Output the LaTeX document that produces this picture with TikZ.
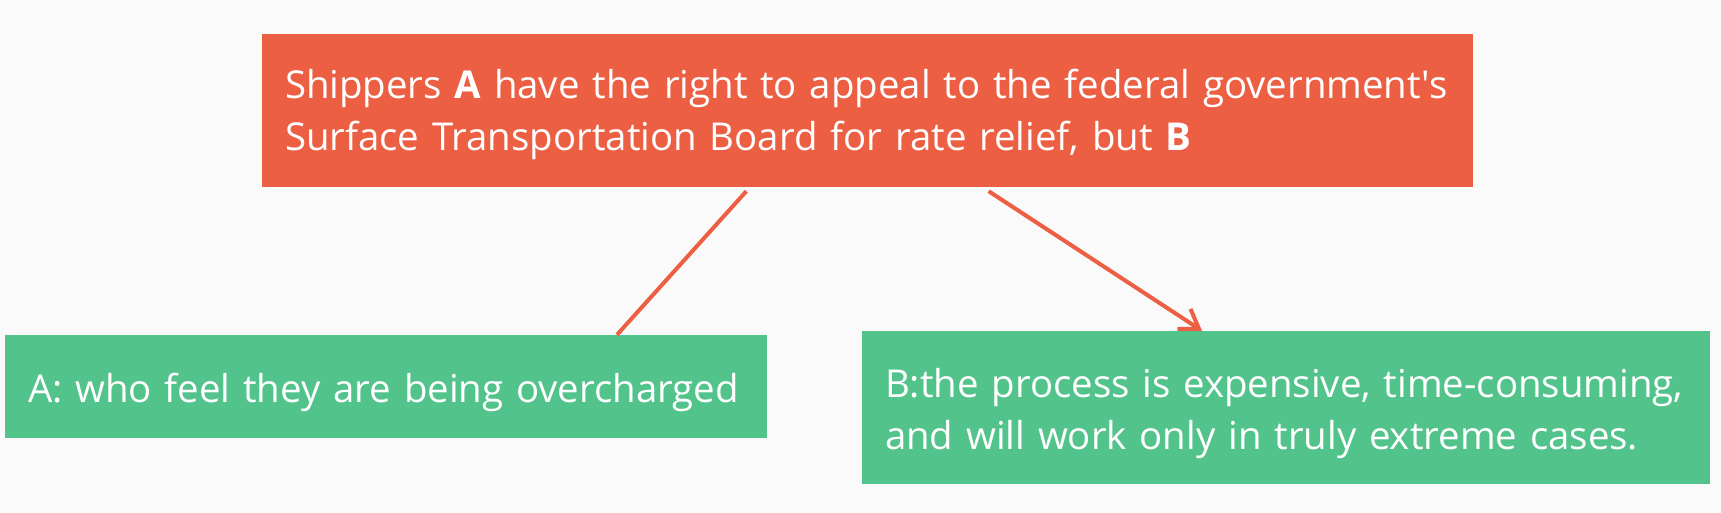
\documentclass[tikz,border=0pt]{standalone}
\usepackage{fontspec}
\setmainfont{Open Sans}
\usetikzlibrary{arrows.meta,calc}
\definecolor{boxred}{HTML}{EC5F43}
\definecolor{boxgreen}{HTML}{52C38B}
\definecolor{paper}{HTML}{FAFAFA}
\tikzset{
  txtbox/.style={text=white,inner xsep=23pt,inner ysep=0pt,align=left,
    font=\fontsize{38.4}{52}\selectfont},
  redbox/.style={txtbox,fill=boxred},
  greenbox/.style={txtbox,fill=boxgreen},
  link/.style={boxred,line width=4pt}
}
\begin{document}
\begin{tikzpicture}[x=1pt,y=1pt]
  \fill[paper] (0,0) rectangle (1721,513);
  \useasboundingbox (0,0) rectangle (1721,513);
  % question and the two blanks
  \node[redbox,minimum width=1211pt,minimum height=153pt,text width=1165pt]
    (stem) at (867.5,402.5)
    {\mbox{\rule{0pt}{37pt}Shippers \textbf{A} have the right to appeal to the federal government\textquotesingle s}\\
     \mbox{Surface Transportation Board for rate relief, but \textbf{B}}};
  \node[greenbox,minimum width=762pt,minimum height=103pt,text width=716pt]
    (ansA) at (386,126.5) {\mbox{\rule{0pt}{42pt}A: who feel they are being overcharged}};
  \node[greenbox,minimum width=848pt,minimum height=153pt,text width=802pt]
    (ansB) at (1286,105.5)
    {\mbox{\rule{0pt}{41pt}B:the process is expensive, time-consuming,}\\
     \mbox{and will work only in truly extreme cases.}};
  \coordinate (a1) at ($(stem.south west)!0.40!(stem.south east)+(0,-4)$);
  \coordinate (b1) at ($(stem.south west)!0.60!(stem.south east)+(0,-4)$);
  \draw[link] (a1) -- ($(ansA.north west)!0.803!(ansA.north east)$);
  \draw[link,-{Straight Barb[length=18pt,width=24pt]}]
    (b1) -- ($(ansB.north west)!0.401!(ansB.north east)$);
\end{tikzpicture}
\end{document}
